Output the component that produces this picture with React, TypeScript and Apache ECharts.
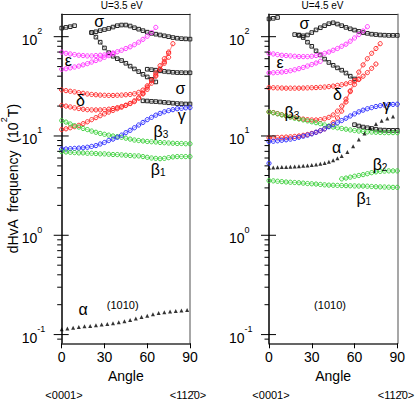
import React, { useEffect, useRef } from "react";
import * as echarts from "echarts";

const FONT = "'Liberation Sans', Arial, sans-serif";

// x positions are sampled every 3 degrees from a start angle
const STEP = 3;

// ---------- U = 3.5 eV (left panel) ----------
const L_sigmaTop = [122, 124, 126, 129]; // from 0
const L_sigma1 = [110, 112, 115, 118, 121, 125, 129, 131, 131, 128, 123, 119, 115, 111, 108, 106, 104, 102, 100, 98, 96.5, 95.5, 95, 94.5]; // from 21
const L_sigma2 = [110, 99, 88, 77, 69, 63.5, 60, 57.5, 54, 50.5, 47.3, 44.5, 41.8, 39.3, 37.2, 35]; // from 21
const L_sigma3 = [47, 46.5, 46, 45.3, 44.7, 44.2, 43.8, 43.5, 43.4, 43.3, 43.3]; // from 60
const L_sigma4 = [22.6, 22.5, 22.3, 22.2, 22.0, 21.8, 21.6, 21.4, 21.2, 21.1, 21.0, 21.0]; // from 57
const L_eps1 = [70, 68, 67, 66, 65, 64.5, 64, 64, 64.5, 65, 65.5, 67, 68.5, 70.5, 73, 76, 79, 83, 88, 94, 101, 110, 124]; // from 0
const L_eps2 = [47, 47.5, 48.5, 49.5, 50.5, 52, 53.5, 55.5, 57.5, 59.5, 62, 64.5, 67]; // from 0
const L_delta1 = [29.1, 28.6, 28.2, 27.8, 27.3, 26.9, 26.5, 26.2, 26.0, 25.8, 25.7, 25.6, 25.6, 25.7, 25.8, 26.0, 26.2, 26.6, 27.5, 29, 32, 36, 41, 47, 54, 62]; // from 0
const L_delta2 = [20.3, 20.0, 19.6, 19.2, 18.9, 18.6, 18.4, 18.3, 18.3, 18.3, 18.4, 18.6, 18.9, 19.3, 19.8, 20.4, 21.2, 22.2, 24, 27, 31, 36.5, 43, 51, 60, 70]; // from 0
const L_delta3 = [11.6, 11.8, 12.1, 12.4, 12.8, 13.3, 13.9, 14.6, 15.3, 16.0, 16.7, 17.4, 18.1, 18.8, 19.5, 20.3, 21.3, 22.6, 24.3, 26.5, 29.5, 34, 40, 47, 56, 68, 85]; // from 0
const L_beta3 = [14.3, 13.8, 13.2, 12.7, 12.3, 11.9, 11.6, 11.2, 10.9, 10.6, 10.4, 10.2, 10.0, 9.85, 9.7, 9.5, 9.3, 9.1, 9.0, 8.9, 8.8, 8.75, 8.7, 8.6, 8.55, 8.5, 8.45, 8.4, 8.4, 8.35, 8.35]; // from 0
const L_gamma = [7.4, 7.4, 7.45, 7.5, 7.55, 7.6, 7.7, 7.85, 8.0, 8.3, 8.6, 9.0, 9.3, 9.7, 10.2, 10.8, 11.4, 12.1, 12.9, 13.7, 14.6, 15.4, 16.2, 16.9, 17.5, 18.0, 18.4, 18.8, 19.0, 19.2, 19.3]; // from 0
const L_beta1 = [6.95, 6.9, 6.85, 6.8, 6.75, 6.75, 6.7, 6.7, 6.65, 6.6, 6.6, 6.55, 6.5, 6.5, 6.45, 6.4, 6.35, 6.3, 6.3, 6.2, 6.1, 6.0, 5.95, 5.9, 5.95, 6.05, 6.15, 6.2, 6.2, 6.2, 6.2]; // from 0
const L_alpha: number[][] = [
  [0, 0.113], [4, 0.115], [8, 0.117], [12, 0.119], [16, 0.121], [20, 0.122], [24, 0.124], [28, 0.126],
  [32, 0.128], [36, 0.13], [40, 0.133], [44, 0.136], [48, 0.14], [52, 0.145], [56, 0.15], [60, 0.155],
  [64, 0.16], [68, 0.165], [72, 0.168], [76, 0.171], [80, 0.173], [84, 0.175], [88, 0.177],
];

// ---------- U = 4.5 eV (right panel) ----------
const R_sigmaTop = [151, 153, 156]; // from 0
const R_sigma1 = [105, 104, 102, 104, 110, 117, 123, 129, 135, 138, 134, 129, 124, 120, 116.5, 113, 110, 108, 106, 105, 104, 103.5, 103, 103, 103]; // from 18
const R_sigma2 = [103, 98, 88, 80, 72, 65.5, 59.5, 55, 51.5, 48.5, 46, 43, 40, 37.5]; // from 21
const R_sigma3 = [13.0, 12.6, 12.3, 12.1, 11.9, 11.7, 11.5, 11.45, 11.4, 11.4, 11.4]; // from 60
const R_eps1 = [68, 67, 66, 65, 64.5, 64, 63.5, 63, 63, 63, 63.5, 64.5, 66, 68, 70, 73, 76, 80, 84, 90, 97, 105, 114, 126]; // from 0
const R_eps2 = [43.2, 43.3, 43.6, 44, 44.6, 45.4, 46.4, 47.6, 49, 50.6, 52.4, 54.3, 56.5]; // from 0
const R_delta1 = [30.7, 30.6, 30.5, 30.4, 30.3, 30.3, 30.3, 30.3, 30.4, 30.5, 30.6, 30.7, 30.9, 31.1, 31.4, 31.8, 32.3, 32.8, 33.5, 34.5, 35.8, 37.5, 40, 43.5, 48, 53]; // from 0
const R_delta2 = [17.5, 17.2, 16.8, 16.4, 16.0, 15.6, 15.3, 15.0, 14.8, 14.6, 14.5, 14.5, 14.6, 14.9, 15.4, 16.3, 17.8, 20, 23.5, 28, 33, 37]; // from 0
const R_delta3 = [9.6, 9.6, 9.65, 9.7, 9.75, 9.8, 9.9, 10.0, 10.15, 10.35, 10.6, 10.9, 11.3, 11.8, 12.5, 13.6, 15.2, 17.8, 22, 28.5, 36, 44, 52, 60, 68, 76, 85]; // from 0
const R_beta3 = [17.5, 17.1, 16.7, 16.3, 15.9, 15.5, 15.1, 14.8, 14.5, 14.2, 13.9, 13.6, 13.3, 12.9, 12.6, 12.3, 12.1, 11.9, 11.7, 11.5, 11.35, 11.2, 11.1, 11.0, 10.95, 10.9, 10.85, 10.8, 10.8, 10.8, 10.8]; // from 0
const R_gamma = [8.8, 8.85, 8.95, 9.05, 9.15, 9.3, 9.45, 9.7, 9.95, 10.2, 10.5, 10.9, 11.3, 11.8, 12.4, 13.0, 13.6, 14.3, 15.1, 15.9, 16.7, 17.5, 18.2, 18.8, 19.3, 19.8, 20.2, 20.5, 20.7, 20.8, 20.9]; // from 0
const R_gammaDot: number[][] = [[0, 5.3]];
const R_beta2 = [3.7, 3.77, 3.85, 3.93, 4.0, 4.08, 4.17, 4.27, 4.35, 4.4, 4.43, 4.45, 4.45, 4.45]; // from 51
const R_beta1 = [3.55, 3.53, 3.5, 3.47, 3.44, 3.42, 3.4, 3.38, 3.35, 3.32, 3.3, 3.28, 3.25, 3.22, 3.2, 3.19, 3.18, 3.17, 3.16, 3.15, 3.14, 3.13, 3.13, 3.12, 3.1, 3.08, 3.07, 3.06, 3.05, 3.04, 3.04]; // from 0
const R_alpha: number[][] = [
  [0, 4.8], [3, 4.82], [6, 4.84], [9, 4.86], [12, 4.88], [15, 4.9], [18, 4.93], [21, 4.97], [24, 5.0],
  [27, 5.05], [30, 5.1], [33, 5.17], [36, 5.25], [39, 5.35], [42, 5.5], [45, 5.7], [48, 5.95], [51, 6.3],
  [55, 6.9], [59, 7.9], [63, 9.2], [67, 10.6], [71, 12.0], [75, 13.2], [79, 14.2], [83, 15.0], [87, 15.7],
];

// ---------- annotations [angle, frequency, text] ----------
const L_labels: [number, number, string][] = [
  [26.3, 141, "σ"], [4.6, 57.5, "ε"], [13.2, 23.0, "δ"], [83.3, 30.1, "σ"], [84.2, 15.9, "γ"],
  [69.6, 11.0, "β{s|3}"], [67.6, 4.55, "β{s|1}"], [15.1, 0.177, "α"],
];
const R_labels: [number, number, string][] = [
  [24.8, 135.8, "σ"], [7.7, 55, "ε"], [48.1, 25.9, "δ"], [82.6, 20.5, "γ"], [16.1, 17.4, "β{s|3}"],
  [47.5, 7.6, "α"], [77.9, 5.22, "β{s|2}"], [66.5, 2.37, "β{s|1}"],
];
const planeLabel: [number, number, string][] = [[42.8, 0.2, "(1010)"]];

// ---------- axes ----------
const Y_MIN = 0.0817;
const Y_MAX = 168;
const xTicks = [0, 30, 60, 90];
const majorTicks = [0.1, 1, 10, 100];
const minorTicks = [0.09, 0.2, 0.3, 0.4, 0.5, 0.6, 0.7, 0.8, 0.9, 2, 3, 4, 5, 6, 7, 8, 9, 20, 30, 40, 50, 60, 70, 80, 90];
const titles = ["U=3.5 eV", "U=4.5 eV"];

const C = {
  black: "#222222",
  magenta: "#ff33ff",
  red: "#ff2a2a",
  green: "#3ccf3c",
  blue: "#2a2aff",
};

const pts = (start: number, vals: number[]) => vals.map((v, i) => [start + i * STEP, v]);

type S = { d: number[][]; color: string; kind: "circle" | "rect" | "tri" };

const leftSeries: S[] = [
  { d: pts(0, L_sigmaTop), color: C.black, kind: "rect" },
  { d: pts(21, L_sigma1), color: C.black, kind: "rect" },
  { d: pts(21, L_sigma2), color: C.black, kind: "rect" },
  { d: pts(60, L_sigma3), color: C.black, kind: "rect" },
  { d: pts(57, L_sigma4), color: C.black, kind: "rect" },
  { d: pts(0, L_eps1), color: C.magenta, kind: "circle" },
  { d: pts(0, L_eps2), color: C.magenta, kind: "circle" },
  { d: pts(0, L_delta1), color: C.red, kind: "circle" },
  { d: pts(0, L_delta2), color: C.red, kind: "circle" },
  { d: pts(0, L_delta3), color: C.red, kind: "circle" },
  { d: pts(0, L_beta3), color: C.green, kind: "circle" },
  { d: pts(0, L_gamma), color: C.blue, kind: "circle" },
  { d: pts(0, L_beta1), color: C.green, kind: "circle" },
  { d: L_alpha, color: "#000", kind: "tri" },
];

const rightSeries: S[] = [
  { d: pts(0, R_sigmaTop), color: C.black, kind: "rect" },
  { d: pts(18, R_sigma1), color: C.black, kind: "rect" },
  { d: pts(21, R_sigma2), color: C.black, kind: "rect" },
  { d: pts(60, R_sigma3), color: C.black, kind: "rect" },
  { d: pts(0, R_eps1), color: C.magenta, kind: "circle" },
  { d: pts(0, R_eps2), color: C.magenta, kind: "circle" },
  { d: pts(0, R_delta1), color: C.red, kind: "circle" },
  { d: pts(0, R_delta2), color: C.red, kind: "circle" },
  { d: pts(0, R_delta3), color: C.red, kind: "circle" },
  { d: pts(0, R_beta3), color: C.green, kind: "circle" },
  { d: pts(0, R_gamma), color: C.blue, kind: "circle" },
  { d: R_gammaDot, color: C.blue, kind: "circle" },
  { d: pts(51, R_beta2), color: C.green, kind: "circle" },
  { d: pts(0, R_beta1), color: C.green, kind: "circle" },
  { d: R_alpha, color: "#000", kind: "tri" },
];

function buildSeries(list: S[], xi: number, yi: number) {
  return list.map((s) => {
    const tri = s.kind === "tri";
    return {
      type: tri ? "scatter" : "line",
      xAxisIndex: xi,
      yAxisIndex: yi,
      data: s.d,
      silent: true,
      showSymbol: true,
      showAllSymbol: true,
      symbol: s.kind === "rect" ? "rect" : tri ? "triangle" : "circle",
      symbolSize: tri ? 4 : s.kind === "rect" ? 3.6 : 4.2,
      lineStyle: { color: s.color, width: 1, opacity: 0.55 },
      itemStyle: tri
        ? { color: s.color }
        : { color: "rgba(255,255,255,0)", borderColor: s.color, borderWidth: 1 },
      z: 3,
    };
  });
}

function tickSeries(xi: number, yi: number) {
  const data = [
    ...majorTicks.map((v) => [0, v, 1]),
    ...minorTicks.map((v) => [0, v, 0]),
  ];
  return {
    type: "custom",
    xAxisIndex: xi,
    yAxisIndex: yi,
    silent: true,
    clip: false,
    data,
    encode: { x: 0, y: 1 },
    renderItem: (_params: any, api: any) => {
      const v = api.value(1);
      const major = api.value(2) === 1;
      const p = api.coord([0, v]);
      return {
        type: "line",
        shape: { x1: p[0] - (major ? 8 : 4.5), y1: p[1], x2: p[0] + (major ? 7 : 0), y2: p[1] },
        style: { stroke: "#000", lineWidth: 1 },
      };
    },
    z: 4,
  };
}

function yLabelFormatter(v: number) {
  const e = Math.log10(v);
  const r = Math.round(e);
  if (Math.abs(e - r) > 1e-6) return "";
  return `{b|10}{s|${r}}`;
}

export default function App() {
  const ref = useRef<HTMLDivElement>(null);

  useEffect(() => {
    if (!ref.current) return;
    const chart = echarts.init(ref.current, null, { renderer: "svg" });

    const grids = [
      { left: 61.7, top: 14.3, width: 128.3, height: 329 },
      { left: 269, top: 14.3, width: 128.3, height: 329 },
    ];

    const xAxes: any[] = [];
    const yAxes: any[] = [];
    grids.forEach((_, gi) => {
      xAxes.push({
        type: "value",
        gridIndex: gi,
        min: 0,
        max: 90,
        interval: 30,
        position: "bottom",
        name: "Angle",
        nameLocation: "middle",
        nameGap: 21,
        nameTextStyle: { fontSize: 14, color: "#000", fontFamily: FONT },
        axisLine: { show: true, onZero: false, lineStyle: { color: "#333", width: 1.5 } },
        axisTick: { show: true, length: 5, inside: false, lineStyle: { color: "#000", width: 1 } },
        axisLabel: {
          show: true,
          fontSize: 14,
          color: "#000",
          fontFamily: FONT,
          margin: 7,
          formatter: (v: number) => (xTicks.includes(v) ? String(v) : ""),
        },
        splitLine: { show: false },
      });
      xAxes.push({
        type: "value",
        gridIndex: gi,
        min: 0,
        max: 90,
        position: "top",
        axisLine: { show: true, onZero: false, lineStyle: { color: "#222", width: 1 } },
        axisTick: { show: false },
        axisLabel: { show: false },
        splitLine: { show: false },
      });
      yAxes.push({
        type: "log",
        logBase: 10,
        gridIndex: gi,
        min: Y_MIN,
        max: Y_MAX,
        position: "left",
        axisLine: { show: true, onZero: false, lineStyle: { color: "#000", width: 1.5 } },
        axisTick: { show: false },
        minorTick: { show: false },
        splitLine: { show: false },
        axisLabel: {
          show: true,
          align: "left",
          margin: 40,
          formatter: yLabelFormatter,
          rich: {
            b: { fontSize: 14, fontFamily: FONT, color: "#000", lineHeight: 20, verticalAlign: "bottom" },
            s: { fontSize: 9, fontFamily: FONT, color: "#000", lineHeight: 9, verticalAlign: "top" },
          },
        },
      });
      yAxes.push({
        type: "log",
        logBase: 10,
        gridIndex: gi,
        min: Y_MIN,
        max: Y_MAX,
        position: "right",
        axisLine: { show: true, onZero: false, lineStyle: { color: "#8a8a8a", width: 1.5 } },
        axisTick: { show: false },
        axisLabel: { show: false },
        splitLine: { show: false },
      });
    });

    const series: any[] = [
      ...buildSeries(leftSeries, 0, 0),
      ...buildSeries(rightSeries, 2, 2),
      tickSeries(0, 0),
      tickSeries(2, 2),
    ];

    chart.setOption({
      animation: false,
      backgroundColor: "#fff",
      grid: grids,
      xAxis: xAxes,
      yAxis: yAxes,
      series,
    });

    const txt = (x: number, y: number, text: string, size: number) => ({
      type: "text",
      x,
      y,
      silent: true,
      z: 10,
      style: {
        text,
        fontSize: size,
        fontFamily: FONT,
        fill: "#000",
        align: "center",
        verticalAlign: "middle",
        rich: {
          s: { fontSize: 10, fontFamily: FONT, fill: "#000", verticalAlign: "bottom", lineHeight: 10 },
        },
      },
    });

    const annot = (list: [number, number, string][], xi: number, yi: number, size: number) =>
      list.map((l) => {
        const p = chart.convertToPixel({ xAxisIndex: xi, yAxisIndex: yi } as any, [l[0], l[1]]) as number[];
        return txt(p[0], p[1], l[2], size);
      });

    const graphic: any[] = [
      txt(121.7, 5.5, titles[0], 10),
      txt(322.5, 5.5, titles[1], 10),
      txt(64, 395, "<0001>", 11),
      txt(188, 395, "<112\u03040>", 11),
      txt(271, 395, "<0001>", 11),
      txt(396, 395, "<112\u03040>", 11),
      ...annot(L_labels, 0, 0, 16),
      ...annot(R_labels, 2, 2, 16),
      ...annot(planeLabel, 0, 0, 11),
      ...annot(planeLabel, 2, 2, 11),
      {
        type: "text",
        x: 9.5,
        y: 178.8,
        rotation: Math.PI / 2,
        silent: true,
        style: {
          text: "{a|dHvA  frequency  (10}{s|2}{a|T)}",
          align: "center",
          verticalAlign: "middle",
          fill: "#000",
          rich: {
            a: { fontSize: 14, fontFamily: FONT, fill: "#000", lineHeight: 20, verticalAlign: "bottom" },
            s: { fontSize: 9, fontFamily: FONT, fill: "#000", lineHeight: 9, verticalAlign: "top" },
          },
        },
      },
    ];

    chart.setOption({ graphic });

    return () => chart.dispose();
  }, []);

  return (
    <div
      ref={ref}
      style={{ position: "absolute", left: 0, top: 0, width: 415, height: 400 }}
    />
  );
}
